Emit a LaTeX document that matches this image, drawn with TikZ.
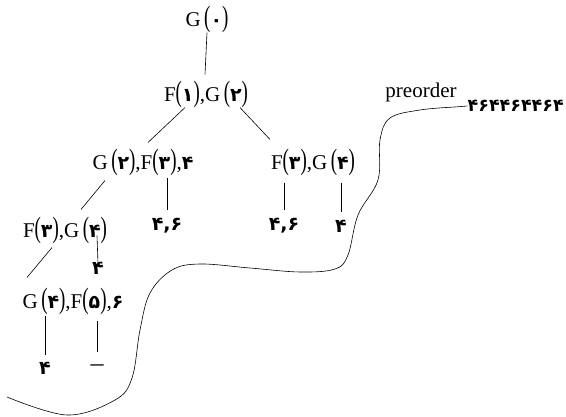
\documentclass[tikz,border=0pt]{standalone}
\usepackage{graphicx}
\usepackage{fontspec}
\setmainfont{Liberation Serif}
\newfontfamily\fafont{DejaVu Sans}
\usetikzlibrary{calc}
\newcommand\fd[1]{{\fafont\bfseries\fontsize{19}{19}\selectfont #1}}
\newcommand\fs[1]{{\fafont\bfseries\fontsize{17.5}{18}\selectfont #1}}
\newcommand\prn[1]{\scalebox{0.9}[1.4]{(}\fd{#1}\scalebox{0.9}[1.4]{)}}
\begin{document}
\begin{tikzpicture}[x=1pt,y=-1pt,
  lbl/.style={inner sep=0pt,font=\fontsize{21}{24}\selectfont},
  leaf/.style={inner sep=0pt},
  edge/.style={draw,line width=0.6pt}]
\useasboundingbox (0,0) rectangle (566,417);
\node[lbl] (n0) at (207,19) {G\,\prn{۰}};
\node[lbl] (n1) at (206,94) {F\prn{۱},G\,\prn{۲}};
\node[lbl] (n2) at (143,162) {G\,\prn{۲},F\prn{۳},\fd{۴}};
\node[lbl] (n3) at (313,162) {F\prn{۳},G\,\prn{۴}};
\node[lbl] (n4) at (65,230) {F\prn{۳},G\,\prn{۴}};
\node[lbl] (n5) at (73,301) {G\,\prn{۴},F\prn{۵},\fd{۶}};
\node[leaf] (l1) at (167,226) {\fd{۴,۶}};
\node[leaf] (l2) at (284,226) {\fd{۴,۶}};
\node[leaf] (l3) at (341,226) {\fd{۴}};
\node[leaf] (l4) at (98,268) {\fd{۴}};
\node[leaf] (l5) at (45,368) {\fd{۴}};
\node[leaf] (l6) at (97,368) {\fontsize{26}{26}\selectfont –};
\node[lbl] (pre) at (421,92) {preorder};
\node[leaf,anchor=east] (seq) at (564,106) {\fs{۴۶۴۴۶۴۴۶۴}};
\draw[edge] (n0.south) -- ($(n1.north)+(-1,-6)$);
\draw[edge] ($(n1.south)+(-21,0)$) -- ($(n2.north)+(5,-6)$);
\draw[edge] ($(n1.south)+(34,0)$) -- ($(n3.north)+(-43,-9)$);
\draw[edge] ($(n2.south)+(-38,5)$) -- ($(n4.north)+(16,-7)$);
\draw[edge] ($(n2.south)+(24,2)$) -- ($(l1.north)+(0,-8)$);
\draw[edge] ($(n3.south)+(-29,7)$) -- ($(l2.north)+(0,-8)$);
\draw[edge] ($(n3.south)+(28,7)$) -- ($(l3.north)+(0,-8)$);
\draw[edge] ($(n4.south)+(-13,4)$) -- ($(n5.north)+(-46,-10)$);
\draw[edge] ($(n4.south)+(32,-8)$) -- ($(l4.north)+(0,2)$);
\draw[edge] ($(n5.south)+(-28,1)$) -- ($(l5.north)+(0,-7)$);
\draw[edge] ($(n5.south)+(24,6)$) -- ($(l6.north)+(0,-12)$);
\coordinate (cs) at (7,397);
\draw[line width=0.6pt] plot[smooth,tension=0.6] coordinates {(cs) (67,415) (115,400) (132,378) (140,330) (150,293) (172,270) (200,264) (250,268) (300,272) (335,269) (348,255) (358,215) (378,180) (380,140) (390,118) (420,110) (455,107)} -- (seq.west);
\end{tikzpicture}
\end{document}
